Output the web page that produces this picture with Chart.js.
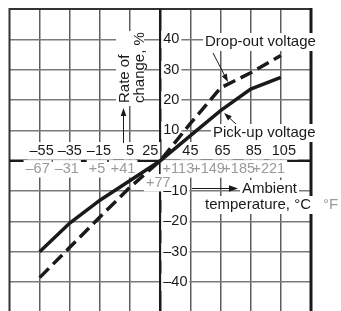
<!DOCTYPE html>
<html>
<head>
<meta charset="utf-8">
<script src="https://cdn.jsdelivr.net/npm/chart.js@4/dist/chart.umd.min.js"></script>
<style>
  html, body { margin: 0; padding: 0; background: #fff; }
  #wrap { width: 341px; height: 311px; }
</style>
</head>
<body>
<div id="wrap"><canvas id="chart" width="341" height="311"></canvas></div>
<script>
const tempC = [-55, -35, -15, 5, 25, 45, 65, 85, 105];
const tempCLabels = ['–55', '–35', '–15', '5', '25', '45', '65', '85', '105'];
const tempFLabels = ['–67', '–31', '+5', '+41', '+77', '+113', '+149', '+185', '+221'];
const rateTicks = [40, 30, 20, 10, -10, -20, -30, -40];
const rateLabels = ['40', '30', '20', '10', '–10', '–20', '–30', '–40'];
const pickUp = [-30, -20.5, -13, -6.5, 0, 8.3, 16.5, 23.6, 27.5];
const dropOut = [-38.5, -28.5, -18.5, -8.7, 0, 12.3, 24, 29, 34.7];

const FONT = "'Liberation Sans', Arial, sans-serif";
const INK = '#1a1a1a';
const GREY_TXT = '#9a9a9a';

// offsets of the tick labels, px
const cDx = [2, 0, -1, 0, -10, 0, 2, 3, 3];
const fDx = [-2, -3, -3, -7, -2, -12, -12, -12, -12];

function arrow(ctx, x1, y1, x2, y2, head) {
    const ang = Math.atan2(y2 - y1, x2 - x1);
    ctx.beginPath();
    ctx.moveTo(x1, y1);
    ctx.lineTo(x2 - Math.cos(ang) * head * 0.8, y2 - Math.sin(ang) * head * 0.8);
    ctx.stroke();
    ctx.beginPath();
    ctx.moveTo(x2, y2);
    ctx.lineTo(x2 - head * Math.cos(ang) + head * 0.35 * Math.sin(ang), y2 - head * Math.sin(ang) - head * 0.35 * Math.cos(ang));
    ctx.lineTo(x2 - head * Math.cos(ang) - head * 0.35 * Math.sin(ang), y2 - head * Math.sin(ang) + head * 0.35 * Math.cos(ang));
    ctx.closePath();
    ctx.fill();
}

const overlay = {
    id: 'overlay',
    beforeDatasetsDraw(chart) {
        const { ctx, chartArea: a, scales: { x, y } } = chart;
        const X = v => x.getPixelForValue(v);
        const Y = v => y.getPixelForValue(v);
        ctx.save();

        // frame: left / top, thick right, no bottom
        ctx.strokeStyle = '#333';
        ctx.lineWidth = 2;
        ctx.beginPath();
        ctx.moveTo(a.left, a.bottom + 2);
        ctx.lineTo(a.left, a.top);
        ctx.lineTo(a.right, a.top);
        ctx.stroke();
        ctx.strokeStyle = INK;
        ctx.lineWidth = 3;
        ctx.beginPath();
        ctx.moveTo(a.right, a.top - 1);
        ctx.lineTo(a.right, a.bottom + 2);
        ctx.stroke();

        // axes through 25 °C and 0 %
        ctx.lineWidth = 2.5;
        ctx.beginPath();
        ctx.moveTo(X(25), a.top);
        ctx.lineTo(X(25), a.bottom + 2);
        ctx.moveTo(a.left, Y(0));
        ctx.lineTo(a.right, Y(0));
        ctx.stroke();

        const boxes = [];
        const texts = [];
        function label(txt, px, py, size, color, align) {
            ctx.font = size + 'px ' + FONT;
            const w = ctx.measureText(txt).width;
            let left = px - w / 2;
            if (align === 'left') left = px;
            if (align === 'right') left = px - w;
            boxes.push([left - 2, py - size * 0.6, w + 4, size * 1.2]);
            texts.push([txt, left, py, size, color]);
        }

        // °C ticks above the axis, °F ticks below
        tempC.forEach((t, i) => {
            label(tempCLabels[i], X(t) + cDx[i], Y(0) - 10, 14.5, INK);
            const fy = tempFLabels[i] === '+77' ? Y(0) + 22 : Y(0) + 8;
            label(tempFLabels[i], X(t) + fDx[i], fy, 14.5, GREY_TXT);
        });
        // rate ticks right of the axis
        rateTicks.forEach((r, i) => {
            label(rateLabels[i], X(25) + 3, Y(r), 14.5, INK, 'left');
        });

        label('Drop-out voltage', 205, 42, 15, INK, 'left');
        label('Pick-up voltage', 213, 133, 15, INK, 'left');
        label('Ambient', 242, 189, 15, INK, 'left');
        label('temperature, °C', 205, 205, 15, INK, 'left');
        label('°F', 323, 205, 15, GREY_TXT, 'left');

        // white boxes break the grid
        ctx.fillStyle = '#fff';
        boxes.forEach(b => ctx.fillRect(b[0], b[1], b[2], b[3]));
        ctx.fillRect(116, 31, 28, 75);

        ctx.textBaseline = 'middle';
        texts.forEach(t => {
            ctx.font = t[3] + 'px ' + FONT;
            ctx.fillStyle = t[4];
            ctx.textAlign = 'left';
            ctx.fillText(t[0], t[1], t[2]);
        });

        // rotated y title
        ctx.fillStyle = INK;
        ctx.font = '15px ' + FONT;
        ctx.textBaseline = 'alphabetic';
        ctx.textAlign = 'left';
        ctx.save();
        ctx.translate(128.5, 103);
        ctx.rotate(-Math.PI / 2);
        ctx.fillText('Rate of', 0, 0);
        ctx.fillText('change, %', 0, 15);
        ctx.restore();

        // pointers
        ctx.strokeStyle = INK;
        ctx.fillStyle = INK;
        ctx.lineWidth = 1;
        arrow(ctx, 123.5, 143, 123.5, 108, 8);
        arrow(ctx, 213, 53, 228, 82, 8);
        arrow(ctx, 236, 124, 224, 113, 8);
        arrow(ctx, 192, 188.5, 238, 188.5, 9);

        ctx.restore();
    }
};

const ctx = document.getElementById('chart').getContext('2d');
new Chart(ctx, {
    type: 'line',
    data: {
        datasets: [{
            label: 'Pick-up voltage',
            data: tempC.map((t, i) => ({ x: t, y: pickUp[i] })),
            borderColor: INK,
            borderWidth: 3.5,
            pointRadius: 0,
            tension: 0
        }, {
            label: 'Drop-out voltage',
            data: tempC.map((t, i) => ({ x: t, y: dropOut[i] })),
            borderColor: INK,
            borderWidth: 3.5,
            borderDash: [13, 6],
            pointRadius: 0,
            tension: 0
        }]
    },
    options: {
        responsive: false,
        animation: false,
        layout: { padding: { left: 9.5, right: 30, top: 9, bottom: 0 } },
        plugins: { legend: { display: false }, tooltip: { enabled: false } },
        scales: {
            x: {
                type: 'linear',
                min: -75, max: 125,
                afterBuildTicks: s => { s.ticks = tempC.map(v => ({ value: v })); },
                afterFit: s => { s.height = 0; },
                ticks: { display: false },
                border: { display: false },
                grid: {
                    drawTicks: false,
                    color: c => c.tick.value === 25 ? 'rgba(0,0,0,0)' : '#5e5e5e',
                    lineWidth: 1.5
                }
            },
            y: {
                min: -49.5, max: 50,
                afterBuildTicks: s => { s.ticks = rateTicks.map(v => ({ value: v })); },
                afterFit: s => { s.width = 0; },
                ticks: { display: false },
                border: { display: false },
                grid: {
                    drawTicks: false,
                    color: '#7a7a7a',
                    lineWidth: 1.5
                }
            }
        }
    },
    plugins: [overlay]
});
</script>
</body>
</html>
